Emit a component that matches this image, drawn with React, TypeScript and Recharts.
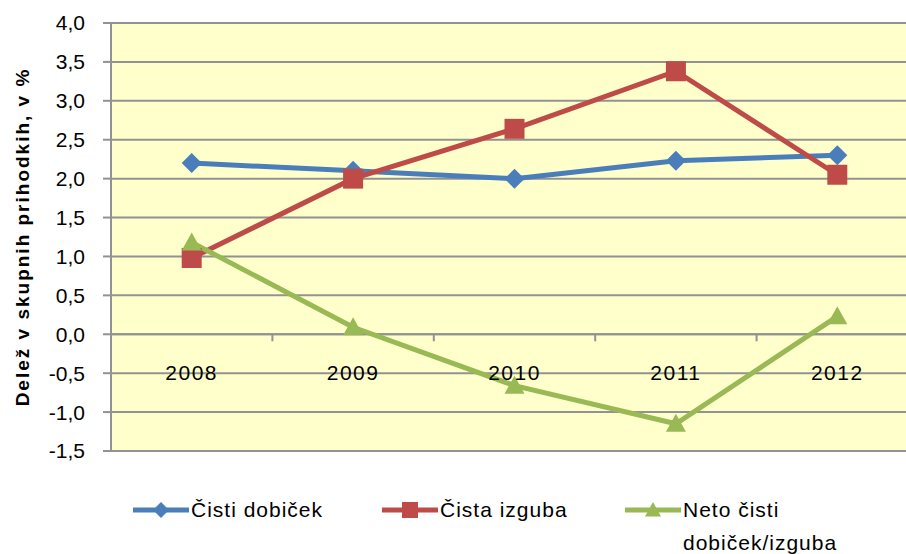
import { FC } from 'react';
import { CartesianGrid, Legend, Line, LineChart, ReferenceLine, XAxis, YAxis } from 'recharts';

const years = ['2008', '2009', '2010', '2011', '2012'];
const cistiDobicek = [2.2, 2.1, 2.0, 2.23, 2.3];
const cistaIzguba = [0.98, 2.0, 2.64, 3.38, 2.05];
const netoDobicek = [1.18, 0.09, -0.66, -1.15, 0.23];
const yTicks = [-1.5, -1.0, -0.5, 0, 0.5, 1.0, 1.5, 2.0, 2.5, 3.0, 3.5, 4.0];
const seriesNames = ['Čisti dobiček', 'Čista izguba', 'Neto čisti dobiček/izguba'];
const yTitle = 'Delež v skupnih prihodkih, v %';

const BLUE = '#4A7EBB';
const RED = '#BE4B48';
const GREEN = '#98B954';
const GRID = '#929292';
const FONT = '"Liberation Sans", Arial, sans-serif';

const data = years.map((year, i) => ({
  year,
  cisti: cistiDobicek[i],
  izguba: cistaIzguba[i],
  neto: netoDobicek[i],
}));

const fmt = (v: number) => v.toFixed(1).replace('.', ',');

type Kind = 'diamond' | 'square' | 'triangle';

const markerPath = (kind: Kind, cx: number, cy: number, r: number) => {
  if (kind === 'diamond') return `M${cx},${cy - r}L${cx + r},${cy}L${cx},${cy + r}L${cx - r},${cy}Z`;
  if (kind === 'square') return `M${cx - r},${cy - r}H${cx + r}V${cy + r}H${cx - r}Z`;
  return `M${cx},${cy - r}L${cx + r},${cy + r * 0.8}L${cx - r},${cy + r * 0.8}Z`;
};

const makeDot = (kind: Kind, color: string) => (p: any) => (
  <path key={`${kind}-${p.index}`} d={markerPath(kind, p.cx, p.cy, 10)} fill={color} />
);

const YearTick: FC<any> = ({ x, y, payload }) => (
  <text x={x} y={y - 71} textAnchor='middle' fontSize={21} letterSpacing={1.5} fontFamily={FONT} fill='#000'>
    {payload.value}
  </text>
);

const ZeroAxis: FC<any> = ({ x1, y1, x2 }) => {
  const n = years.length;
  const step = (x2 - x1) / n;
  return (
    <g>
      <line x1={x1} y1={y1} x2={x2} y2={y1} stroke={GRID} strokeWidth={2} />
      {Array.from({ length: n + 1 }, (_, i) => (
        <line key={i} x1={x1 + i * step} y1={y1} x2={x1 + i * step} y2={y1 + 7} stroke={GRID} strokeWidth={2} />
      ))}
    </g>
  );
};

const legendItems: { name: string; color: string; kind: Kind; width: number }[] = [
  { name: seriesNames[0], color: BLUE, kind: 'diamond', width: 249 },
  { name: seriesNames[1], color: RED, kind: 'square', width: 243 },
  { name: seriesNames[2], color: GREEN, kind: 'triangle', width: 240 },
];

const LegendContent: FC = () => (
  <div
    style={{
      display: 'flex',
      alignItems: 'flex-start',
      paddingLeft: 133,
      paddingTop: 40,
      fontFamily: FONT,
      fontSize: 21,
      letterSpacing: 1,
      lineHeight: '33px',
      color: '#000',
    }}
  >
    {legendItems.map((it, i) => (
      <div key={it.name} style={{ display: 'flex', alignItems: 'flex-start', width: it.width, flexShrink: 0 }}>
        <svg width={56} height={33} style={{ flexShrink: 0, marginRight: 2 }}>
          <line x1={0} y1={17} x2={56} y2={17} stroke={it.color} strokeWidth={5} />
          <path d={markerPath(it.kind, 28, 17, 8)} fill={it.color} />
        </svg>
        <span style={{ width: i === 2 ? 175 : undefined, whiteSpace: i === 2 ? 'normal' : 'nowrap' }}>{it.name}</span>
      </div>
    ))}
  </div>
);

const App: FC = () => {
  return (
    <div style={{ position: 'absolute', left: 0, top: 0, width: 906, height: 554, overflow: 'hidden', background: '#fff' }}>
      <LineChart width={918} height={554} data={data} margin={{ top: 23, right: 0, left: 0, bottom: 0 }}>
        <CartesianGrid vertical={false} stroke={GRID} strokeWidth={2} fill='#FFFFCC' fillOpacity={1} />
        <XAxis
          dataKey='year'
          scale='band'
          height={2}
          axisLine={false}
          tickLine={false}
          tickSize={0}
          tickMargin={0}
          tick={<YearTick />}
          interval={0}
        />
        <YAxis
          width={111}
          domain={[-1.5, 4]}
          ticks={yTicks}
          tickFormatter={fmt}
          axisLine={{ stroke: GRID, strokeWidth: 2 }}
          tickLine={{ stroke: GRID, strokeWidth: 2 }}
          tickSize={8}
          tickMargin={18}
          tick={{ fontSize: 21, fontFamily: FONT, fill: '#000' }}
          label={{
            value: yTitle,
            angle: -90,
            position: 'insideLeft',
            offset: 22,
            style: { textAnchor: 'middle', fontSize: 19, letterSpacing: 2, fontWeight: 'bold', fontFamily: FONT, fill: '#000' },
          }}
        />
        <ReferenceLine y={0} shape={<ZeroAxis />} />
        <Legend verticalAlign='bottom' height={101} wrapperStyle={{ left: 0, width: 906 }} content={<LegendContent />} />
        <Line dataKey='cisti' name={seriesNames[0]} stroke={BLUE} strokeWidth={5} dot={makeDot('diamond', BLUE)} isAnimationActive={false} />
        <Line dataKey='izguba' name={seriesNames[1]} stroke={RED} strokeWidth={5} dot={makeDot('square', RED)} isAnimationActive={false} />
        <Line dataKey='neto' name={seriesNames[2]} stroke={GREEN} strokeWidth={5} dot={makeDot('triangle', GREEN)} isAnimationActive={false} />
      </LineChart>
    </div>
  );
};

export default App;
